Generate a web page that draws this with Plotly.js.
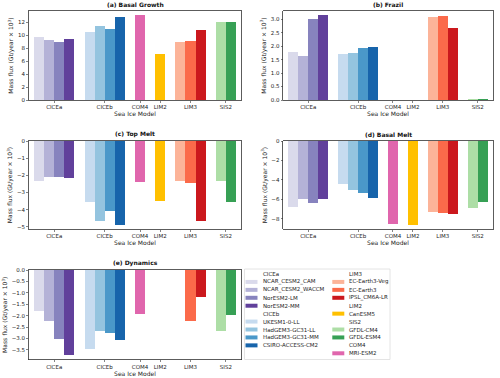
<!DOCTYPE html>
<html>
<head>
<meta charset="utf-8">
<script src="https://cdn.plot.ly/plotly-3.0.1.min.js"></script>
<style>
  html, body { margin: 0; padding: 0; background: #fff; }
  #chart { width: 500px; height: 378px; }
</style>
</head>
<body>
<div id="chart"></div>
<script>
// models in plotting order, with their sea ice model group
const models = ["NCAR_CESM2_CAM", "NCAR_CESM2_WACCM", "NorESM2-LM", "NorESM2-MM",
  "UKESM1-0-LL", "HadGEM3-GC31-LL", "HadGEM3-GC31-MM", "CSIRO-ACCESS-CM2",
  "MRI-ESM2", "CanESM5", "EC-Earth3-Veg", "EC-Earth3", "IPSL_CM6A-LR",
  "GFDL-CM4", "GFDL-ESM4"];
const modelGroups = ["CICEa", "CICEa", "CICEa", "CICEa",
  "CICEb", "CICEb", "CICEb", "CICEb",
  "COM4", "LIM2", "LIM3", "LIM3", "LIM3", "SIS2", "SIS2"];
const modelColors = ["#dadaeb", "#b4b2d7", "#8783be", "#61409b",
  "#c6dbef", "#94c4df", "#4a98c9", "#1764ab",
  "#e066ad", "#ffc000", "#fcb499", "#fb6a4a", "#cb181d",
  "#addea6", "#37a055"];
const groupOrder = ["CICEa", "CICEb", "COM4", "LIM2", "LIM3", "SIS2"];
const legendColumns = [["CICEa", "CICEb"], ["LIM3", "LIM2", "SIS2", "COM4"]];

// mass flux, Gt/year x 10^3, same order as models
const basalGrowth = [9.65, 9.18, 8.97, 9.38, 10.51, 11.38, 10.92, 12.72, 13.05, 7.08, 8.87, 9.08, 10.77, 11.95, 12.0];
const frazil = [1.77, 1.64, 3.0, 3.15, 1.7, 1.74, 1.92, 1.96, 0, 0, 3.1, 3.12, 2.69, 0.02, 0.04];
const topMelt = [-2.33, -2.08, -2.12, -2.17, -3.58, -4.67, -4.1, -4.88, -2.37, -3.5, -2.35, -2.46, -4.65, -2.31, -3.56];
const basalMelt = [-6.81, -5.97, -6.34, -5.93, -4.44, -5.08, -5.32, -5.83, -8.54, -8.61, -7.29, -7.39, -7.49, -6.88, -6.31];
const dynamics = [-1.81, -2.24, -3.04, -3.73, -3.45, -2.66, -2.75, -3.06, -1.92, 0, 0, -2.23, -1.2, -2.66, -1.95];

const panels = [
  { title: "(a) Basal Growth", values: basalGrowth, fmt: "", dtick: 2 },
  { title: "(b) Frazil", values: frazil, fmt: ".1f", dtick: 0.5 },
  { title: "(c) Top Melt", values: topMelt, fmt: "", dtick: 1 },
  { title: "(d) Basal Melt", values: basalMelt, fmt: "", dtick: 2 },
  { title: "(e) Dynamics", values: dynamics, fmt: ".1f", dtick: 0.5 }
];

// bar positions: one slot per model, one empty slot between groups
const xPos = [];
const tickPos = [];
let slot = 0;
groupOrder.forEach(g => {
  const idx = models.map((m, i) => i).filter(i => modelGroups[i] === g);
  const start = slot;
  idx.forEach(i => { xPos[i] = slot; slot += 1; });
  tickPos.push((start + slot - 1) / 2);
  slot += 1;
});
const order = models.map((m, i) => i).sort((a, b) => xPos[a] - xPos[b]);

const W = 500, H = 378;
const px = v => v / W;
const py = v => 1 - v / H;
const colX = [[px(29), px(241)], [px(283.3), px(492.7)]];
const rowY = [[py(100), py(11)], [py(229), py(141)], [py(359.5), py(270)]];

const font = { family: "DejaVu Sans", size: 5.5, color: "#222" };
const lineCol = "#333";

const traces = [];
const layout = {
  width: W, height: H,
  margin: { l: 0, r: 0, t: 0, b: 0 },
  paper_bgcolor: "#fff", plot_bgcolor: "#fff",
  font: font,
  showlegend: false,
  bargap: 0,
  annotations: [],
  shapes: []
};

panels.forEach((p, k) => {
  const n = k + 1;
  const xa = "xaxis" + (n === 1 ? "" : n);
  const ya = "yaxis" + (n === 1 ? "" : n);
  traces.push({
    type: "bar",
    x: order.map(i => xPos[i]),
    y: order.map(i => p.values[i]),
    width: order.map(() => 1),
    marker: { color: order.map(i => modelColors[i]), line: { width: 0 } },
    xaxis: "x" + (n === 1 ? "" : n),
    yaxis: "y" + (n === 1 ? "" : n),
    hoverinfo: "skip"
  });
  const col = k % 2, row = Math.floor(k / 2);
  const maxV = Math.max(...p.values), minV = Math.min(...p.values);
  const yr = maxV > 0 ? [0, maxV * 1.05] : [minV * 1.05, 0];
  layout[xa] = {
    domain: colX[col],
    anchor: "y" + (n === 1 ? "" : n),
    range: [-1, slot - 1],
    tickvals: tickPos, ticktext: groupOrder,
    ticks: "outside", ticklen: 2, tickwidth: 0.6, tickcolor: lineCol,
    showline: true, mirror: true, linecolor: lineCol, linewidth: 0.8,
    showgrid: false, zeroline: false,
    tickfont: font,
    title: { text: "Sea Ice Model", font: { family: "DejaVu Sans", size: 6, color: "#222" }, standoff: 1 }
  };
  layout[ya] = {
    domain: rowY[row],
    anchor: "x" + (n === 1 ? "" : n),
    range: yr,
    dtick: p.dtick, tickformat: p.fmt,
    ticks: "outside", ticklen: 2, tickwidth: 0.6, tickcolor: lineCol,
    showline: true, mirror: true, linecolor: lineCol, linewidth: 0.8,
    showgrid: false, zeroline: false,
    tickfont: font,
    title: { text: "Mass flux (Gt/year × 10<sup>3</sup>)", font: { family: "DejaVu Sans", size: 6, color: "#222" }, standoff: 3 }
  };
  layout.annotations.push({
    xref: "paper", yref: "paper",
    x: (colX[col][0] + colX[col][1]) / 2, y: rowY[row][1],
    xanchor: "center", yanchor: "bottom", yshift: 1,
    text: "<b>" + p.title + "</b>", showarrow: false,
    font: { family: "DejaVu Sans", size: 6, color: "#111" }
  });
});

// legend, drawn in the empty bottom-right cell
layout.shapes.push({
  type: "rect", xref: "paper", yref: "paper",
  x0: px(244.5), x1: px(390), y0: py(359.5), y1: py(269),
  line: { color: "#ddd", width: 0.8 }, fillcolor: "rgba(255,255,255,0.8)"
});
const legX = [[245.5, 257.5, 261], [332.3, 344.3, 347.3]];
const rowStep = 7.93, rowTop = 274;
legendColumns.forEach((groups, c) => {
  let r = 0;
  groups.forEach(g => {
    layout.annotations.push({
      xref: "paper", yref: "paper", x: px(legX[c][2]), y: py(rowTop + r * rowStep),
      xanchor: "left", yanchor: "middle", text: g, showarrow: false, font: font
    });
    r += 1;
    models.forEach((m, i) => {
      if (modelGroups[i] !== g) return;
      const yc = rowTop + r * rowStep;
      layout.shapes.push({
        type: "rect", xref: "paper", yref: "paper",
        x0: px(legX[c][0]), x1: px(legX[c][1]), y0: py(yc + 2), y1: py(yc - 2),
        line: { width: 0 }, fillcolor: modelColors[i]
      });
      layout.annotations.push({
        xref: "paper", yref: "paper", x: px(legX[c][2]), y: py(yc),
        xanchor: "left", yanchor: "middle", text: m, showarrow: false, font: font
      });
      r += 1;
    });
  });
});

Plotly.newPlot("chart", traces, layout, { staticPlot: true, displayModeBar: false });
</script>
</body>
</html>
